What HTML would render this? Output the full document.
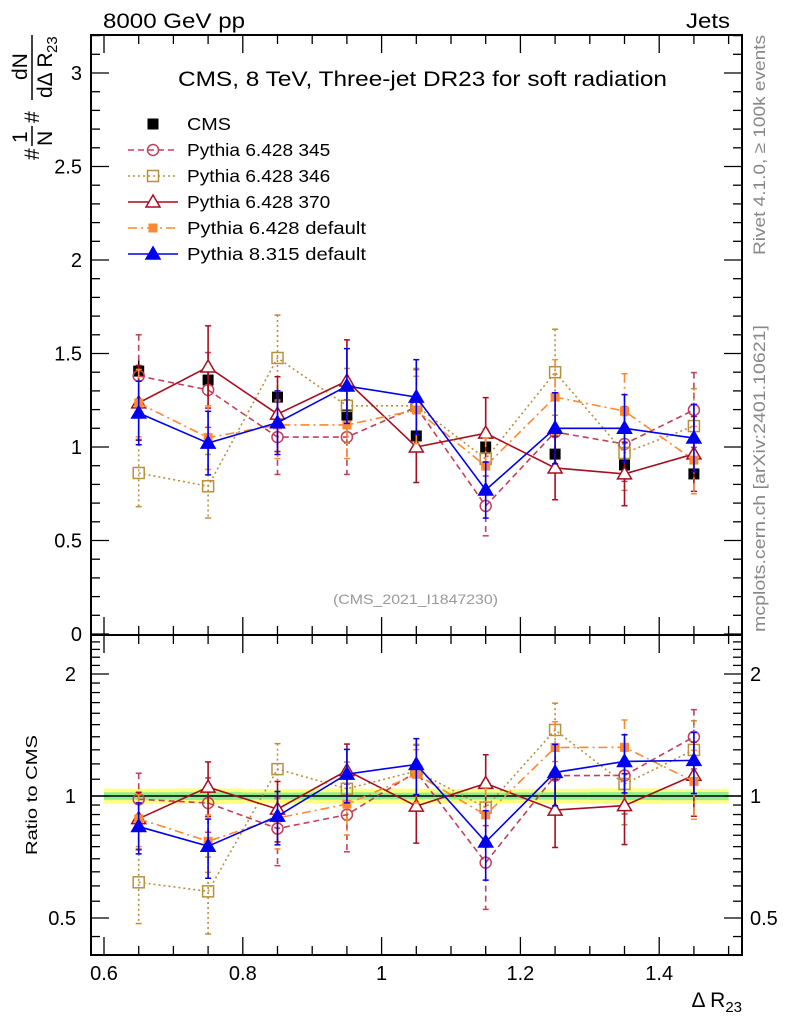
<!DOCTYPE html>
<html><head><meta charset="utf-8"><style>
body{margin:0;background:#fff;}
svg{display:block;font-family:"Liberation Sans",sans-serif;}
</style></head><body>
<svg id="c" width="786" height="1024" viewBox="0 0 786 1024"></svg>
<script>
const xs=[0.65,0.75,0.85,0.95,1.05,1.15,1.25,1.35,1.45];
const cmsV=[1.406,1.358,1.267,1.171,1.059,1.0,0.962,0.904,0.856];
const cmsE=[0.06,0.06,0.05,0.05,0.045,0.04,0.04,0.04,0.035];
const cmsStat=[0.03,0.03,0.025,0.025,0.02,0.02,0.02,0.02,0.02];
const p345=[1.38,1.305,1.053,1.053,1.214,0.685,1.08,1.016,1.198];
const p345E=[0.22,0.2,0.2,0.2,0.2,0.16,0.2,0.2,0.2];
const p346=[0.861,0.79,1.476,1.22,1.22,0.936,1.40,0.968,1.112];
const p346E=[0.18,0.17,0.23,0.2,0.2,0.16,0.23,0.2,0.2];
const p370=[1.236,1.428,1.176,1.353,1.0,1.074,0.888,0.856,0.963];
const p370E=[0.2,0.22,0.2,0.22,0.19,0.19,0.17,0.17,0.2];
const pdef=[1.235,1.05,1.118,1.118,1.198,0.898,1.267,1.192,0.93];
const pdefE=[0.18,0.17,0.18,0.18,0.18,0.15,0.2,0.2,0.18];
const p8=[1.182,1.021,1.13,1.326,1.267,0.77,1.10,1.10,1.048];
const p8E=[0.17,0.17,0.17,0.2,0.2,0.15,0.19,0.18,0.18];
const yTicksMain=[0,0.5,1,1.5,2,2.5,3];
const yTickLabelsMain=["0","0.5","1","1.5","2","2.5","3"];
const xTicks=[0.6,0.8,1,1.2,1.4];
const xTickLabels=["0.6","0.8","1","1.2","1.4"];
const rTicks=[0.5,1,2];
const rTickLabels=["0.5","1","2"];

const NS="http://www.w3.org/2000/svg";
const svg=document.getElementById('c');
function el(t,a,p){const e=document.createElementNS(NS,t);for(const k in a)e.setAttribute(k,a[k]);(p||svg).appendChild(e);return e;}
const L=91,R=742,T1=35,B1=635,B2=955;
const X=v=>104+(v-0.6)*694;
const Y=v=>634-187*v;
const YR=r=>796-122*Math.log2(r);

const band=el('g',{});


xs.forEach((x,i)=>{
  const x0=X(x-0.05),x1=Math.min(X(x+0.05),R-1);
  const e=cmsE[i]/cmsV[i],s=cmsStat[i]/cmsV[i];
  el('rect',{x:x0,y:YR(1+e),width:x1-x0,height:YR(1-e)-YR(1+e),fill:'#ffff80'},band);
  el('rect',{x:x0,y:YR(1+s),width:x1-x0,height:YR(1-s)-YR(1+s),fill:'#90ee90'},band);
});
el('line',{x1:L,x2:R,y1:YR(1),y2:YR(1),stroke:'#000','stroke-width':1.5});

el('rect',{x:L,y:T1,width:R-L,height:B1-T1,fill:'none',stroke:'#000','stroke-width':2});
el('rect',{x:L,y:B1,width:R-L,height:B2-B1,fill:'none',stroke:'#000','stroke-width':2});

for(let v=0;v<=3.2001;v+=0.1){
  const big=Math.abs(v*2-Math.round(v*2))<1e-6;const len=big?18:9;const y=Y(v);
  el('line',{x1:L,x2:L+len,y1:y,y2:y,stroke:'#000','stroke-width':1.3});
  el('line',{x1:R,x2:R-len,y1:y,y2:y,stroke:'#000','stroke-width':1.3});
}
yTicksMain.forEach((v,i)=>{const t=el('text',{x:82,y:Y(v)+7,'font-size':20,'text-anchor':'end'});t.textContent=yTickLabelsMain[i];

});
for(let r=0.45;r<=2.5;r+=(r<1?0.05:0.1)){
  const y=YR(r);if(y<B1||y>B2)continue;
  const big=rTicks.some(t=>Math.abs(t-r)<1e-6);const len=big?18:9;
  el('line',{x1:L,x2:L+len,y1:y,y2:y,stroke:'#000','stroke-width':1.3});
  el('line',{x1:R,x2:R-len,y1:y,y2:y,stroke:'#000','stroke-width':1.3});
}
rTicks.forEach((v,i)=>{
  const a=el('text',{x:76,y:YR(v)+7,'font-size':20,'text-anchor':'end'});a.textContent=rTickLabels[i];
  
  
  const b=el('text',{x:750,y:YR(v)+7,'font-size':20});b.textContent=rTickLabels[i];
  
  
});
for(let v=0.6;v<=1.52;v+=0.05){
  const big=Math.abs(v*5-Math.round(v*5))<1e-6;const len=big?18:9;const x=X(v);
  [[B2,-1],[B1,1],[B1,-1],[T1,1]].forEach(([y,d])=>el('line',{x1:x,x2:x,y1:y,y2:y+d*len,stroke:'#000','stroke-width':1.3}));
}
xTicks.forEach((v,i)=>{const t=el('text',{x:X(v),y:980,'font-size':20,'text-anchor':'middle'});t.textContent=xTickLabels[i];

});

const series=[
 {n:'pythia-6428-345',v:p345,e:p345E,c:'#c0405a',d:'6,4',m:'circle'},
 {n:'pythia-6428-346',v:p346,e:p346E,c:'#b8913c',d:'2,3',m:'osquare'},
 {n:'pythia-6428-370',v:p370,e:p370E,c:'#a50f1f',d:'',m:'otri'},
 {n:'pythia-6428-default',v:pdef,e:pdefE,c:'#ff8833',d:'9,4,2,4',m:'fsquare'},
 {n:'pythia-8315-default',v:p8,e:p8E,c:'#0000ee',d:'',m:'ftri'}
];
function marker(g,m,x,y,c){
  if(m=='circle')el('circle',{cx:x,cy:y,r:5.5,fill:'none',stroke:c,'stroke-width':1.5},g);
  else if(m=='osquare')el('rect',{x:x-5.5,y:y-5.5,width:11,height:11,fill:'none',stroke:c,'stroke-width':1.5},g);
  else if(m=='fsquare')el('rect',{x:x-4.5,y:y-4.5,width:9,height:9,fill:c},g);
  else if(m=='bsquare')el('rect',{x:x-5.5,y:y-5.5,width:11,height:11,fill:c},g);
  else{const p=`${x},${y-7} ${x-7},${y+5} ${x+7},${y+5}`;el('polygon',{points:p,fill:m=='ftri'?c:'#fff',stroke:c,'stroke-width':1.5},g);}
}
function draw(s,Yf,ratio){
  const g=el('g',{});
  
  
  const val=i=>ratio?s.v[i]/cmsV[i]:s.v[i];
  const er=i=>ratio?s.e[i]/cmsV[i]:s.e[i];
  el('polyline',{points:xs.map((x,i)=>X(x)+','+Yf(val(i))).join(' '),fill:'none',stroke:s.c,'stroke-width':1.6,'stroke-dasharray':s.d},g);
  xs.forEach((x,i)=>{
    const y1=Yf(val(i)+er(i)),y2=Yf(Math.max(val(i)-er(i),0.01));
    el('line',{x1:X(x),x2:X(x),y1:y1,y2:y2,stroke:s.c,'stroke-width':1.6,'stroke-dasharray':s.d},g);
    el('line',{x1:X(x)-3,x2:X(x)+3,y1:y1,y2:y1,stroke:s.c,'stroke-width':1.5},g);
    el('line',{x1:X(x)-3,x2:X(x)+3,y1:y2,y2:y2,stroke:s.c,'stroke-width':1.5},g);
    marker(g,s.m,X(x),Yf(val(i)),s.c);
  });
}
const cg=el('g',{});


xs.forEach((x,i)=>{el('line',{x1:X(x),x2:X(x),y1:Y(cmsV[i]+cmsE[i]),y2:Y(cmsV[i]-cmsE[i]),stroke:'#000','stroke-width':1.5},cg);marker(cg,'bsquare',X(x),Y(cmsV[i]),'#000');});
series.forEach(s=>draw(s,Y,false));
series.forEach(s=>draw(s,YR,true));

const lg=el('g',{});


const names=['CMS','Pythia 6.428 345','Pythia 6.428 346','Pythia 6.428 370','Pythia 6.428 default','Pythia 8.315 default'];
names.forEach((n,i)=>{
  const y=124+i*26;
  if(i==0)marker(lg,'bsquare',153,y,'#000');
  else{const s=series[i-1];el('line',{x1:128,x2:178,y1:y,y2:y,stroke:s.c,'stroke-width':1.6,'stroke-dasharray':s.d},lg);marker(lg,s.m,153,y,s.c);}
  const t=el('text',{x:187,y:y+6,'font-size':17.5,'textLength':i==0?44:n.length*8.95,'lengthAdjust':'spacingAndGlyphs'},lg);t.textContent=n;
});

function txt(s,a,name){const t=el('text',a);t.textContent=s;return t;}
txt('CMS, 8 TeV, Three-jet DR23 for soft radiation',{x:178,y:86,'font-size':21,textLength:489,lengthAdjust:'spacingAndGlyphs'},'plot-title');
txt('(CMS_2021_I1847230)',{x:333,y:604,'font-size':14,fill:'#999',textLength:165,lengthAdjust:'spacingAndGlyphs'},'analysis-id');
txt('8000 GeV pp',{x:103,y:28,'font-size':21,textLength:142,lengthAdjust:'spacingAndGlyphs'},'beam-label');
txt('Jets',{x:686,y:28,'font-size':21,textLength:44,lengthAdjust:'spacingAndGlyphs'},'process-label');
txt('Rivet 4.1.0, \u2265 100k events',{x:0,y:0,'font-size':17,fill:'#888',transform:'translate(765,255) rotate(-90)',textLength:220,lengthAdjust:'spacingAndGlyphs'},'rivet-label');
txt('mcplots.cern.ch [arXiv:2401.10621]',{x:0,y:0,'font-size':17,fill:'#888',transform:'translate(765,632) rotate(-90)',textLength:307,lengthAdjust:'spacingAndGlyphs'},'mcplots-label');
txt('Ratio to CMS',{x:0,y:0,'font-size':16,transform:'translate(37,855) rotate(-90)',textLength:120,lengthAdjust:'spacingAndGlyphs'},'ratio-axis-title');

const yg=el('g',{transform:'translate(0,160) rotate(-90)'});


[['#',0,39,21],['1',17,27,21],['N',14,52,21],['#',37,39,21],['dN',80,27,21],['dΔ R',62,52,21]].forEach(([s,u,v,f])=>{const t=el('text',{x:u,y:v,'font-size':f},yg);t.textContent=s;});
const sub=el('text',{x:107,y:57,'font-size':15},yg);sub.textContent='23';
el('line',{x1:14,x2:34,y1:32,y2:32,stroke:'#000','stroke-width':1.5},yg);
el('line',{x1:60,x2:125,y1:32,y2:32,stroke:'#000','stroke-width':1.5},yg);

const xl=txt('',{x:742,y:1007,'font-size':21,'text-anchor':'end'},'x-axis-title');
xl.innerHTML='Δ R<tspan dy="5" font-size="15">23</tspan>';
</script>
</body></html>
